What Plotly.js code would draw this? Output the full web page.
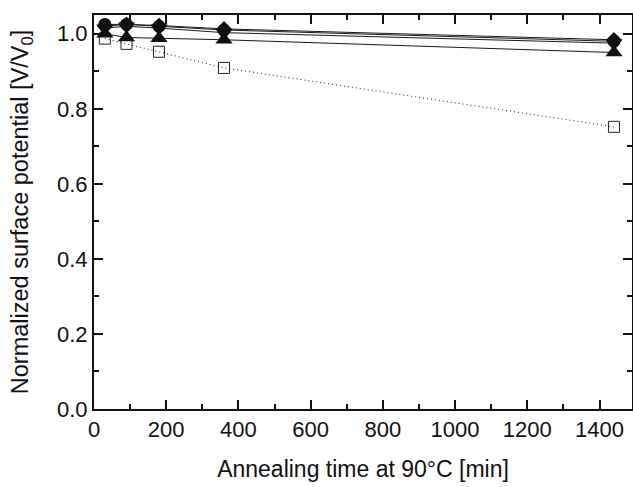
<!DOCTYPE html>
<html>
<head>
<meta charset="utf-8">
<script src="https://cdn.plot.ly/plotly-3.0.1.min.js"></script>
<style>html,body{margin:0;padding:0;background:#fff;}#chart{width:633px;height:487px;}</style>
</head>
<body>
<div id="chart"></div>
<script>
// Annealing time [min]
const times = [30, 90, 180, 360, 1440];
// Normalized surface potential per sample series
const squares   = [0.987, 0.973, 0.952, 0.909, 0.752];
const circles   = [1.025, 1.025, 1.020, 1.010, 0.980];
const diamonds  = [1.020, 1.025, 1.022, 1.013, 0.984];
const downTris  = [1.015, 1.020, 1.015, 1.003, 0.975];
const upTris    = [1.000, 0.990, 0.988, 0.984, 0.950];

const xTickVals = [0, 200, 400, 600, 800, 1000, 1200, 1400];
const yTickVals = [0.0, 0.2, 0.4, 0.6, 0.8, 1.0];

const FONT = '"Liberation Sans", Arial, Helvetica, sans-serif';

function filled(y, symbol, size) {
  return {
    x: times, y: y, type: 'scatter', mode: 'lines+markers', cliponaxis: false,
    line: {color: '#1a1a1a', width: 1},
    marker: {symbol: symbol, size: size, color: '#111', line: {width: 0}}
  };
}

const traces = [
  {
    x: times, y: squares, type: 'scatter', mode: 'lines+markers', cliponaxis: false,
    line: {color: '#222', width: 1, dash: '1px,3px'},
    marker: {symbol: 'square-open', size: 11, color: '#222', line: {width: 1}}
  },
  filled(upTris, 'triangle-up', 15),
  filled(downTris, 'triangle-down', 15),
  filled(circles, 'circle', 13),
  filled(diamonds, 'diamond', 12)
];

const axisCommon = {
  showline: true, linewidth: 2, linecolor: '#111', mirror: 'ticks',
  ticks: 'inside', ticklen: 9, tickwidth: 2, tickcolor: '#111',
  showgrid: false, zeroline: false,
  tickfont: {family: FONT, size: 22, color: '#111'}
};

const layout = {
  width: 633, height: 487,
  margin: {l: 94, r: 1, t: 15, b: 78},
  paper_bgcolor: '#fff', plot_bgcolor: '#fff',
  showlegend: false,
  font: {family: FONT, color: '#111'},
  xaxis: Object.assign({}, axisCommon, {
    range: [0, 1490], tickvals: xTickVals, ticktext: xTickVals.map(String),
    minor: {dtick: 100, tick0: 0, ticks: 'inside', ticklen: 5, tickwidth: 2, tickcolor: '#111'},
    title: {text: 'Annealing time at 90°C [min]', font: {family: FONT, size: 23, color: '#111'}, standoff: 19}
  }),
  yaxis: Object.assign({}, axisCommon, {
    range: [0, 1.05], tickvals: yTickVals, ticktext: yTickVals.map(v => v.toFixed(1)),
    minor: {dtick: 0.1, tick0: 0, ticks: 'inside', ticklen: 5, tickwidth: 2, tickcolor: '#111'},
    title: {text: 'Normalized surface potential [V/V<sub>0</sub>]', font: {family: FONT, size: 23.5, color: '#111'}, standoff: 22}
  })
};

Plotly.newPlot('chart', traces, layout, {displayModeBar: false, staticPlot: true});
</script>
</body>
</html>
